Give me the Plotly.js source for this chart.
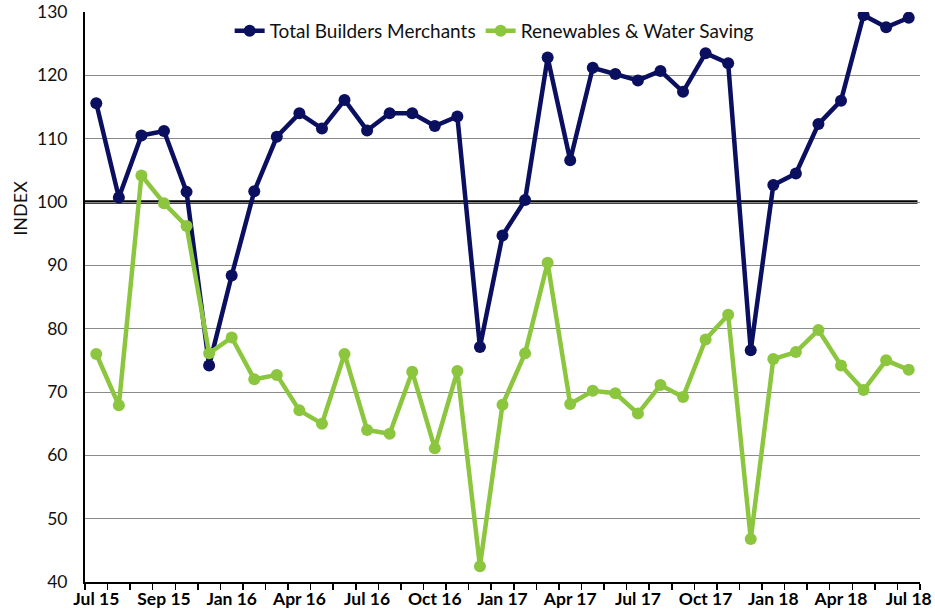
<!DOCTYPE html>
<html>
<head>
<meta charset="utf-8">
<script src="https://cdn.plot.ly/plotly-3.0.1.min.js"></script>
<style>html,body{margin:0;padding:0;background:#fff;}#chart{width:935px;height:616px;}</style>
</head>
<body>
<div id="chart"></div>
<script>
const months = ['Jul 15','Aug 15','Sep 15','Oct 15','Nov 15','Dec 15','Jan 16','Feb 16','Mar 16','Apr 16','May 16','Jun 16','Jul 16','Aug 16','Sep 16','Oct 16','Nov 16','Dec 16','Jan 17','Feb 17','Mar 17','Apr 17','May 17','Jun 17','Jul 17','Aug 17','Sep 17','Oct 17','Nov 17','Dec 17','Jan 18','Feb 18','Mar 18','Apr 18','May 18','Jun 18','Jul 18'];
const totalBuilders = [115.6,100.7,110.5,111.2,101.6,74.2,88.4,101.7,110.3,114.0,111.6,116.1,111.3,114.0,114.0,112.0,113.5,77.1,94.7,100.3,122.8,106.6,121.2,120.2,119.2,120.7,117.4,123.5,121.9,76.6,102.7,104.5,112.3,116.0,129.5,127.6,129.1];
const renewables = [76.0,67.9,104.2,99.8,96.2,76.1,78.6,72.0,72.7,67.1,65.0,76.0,64.0,63.4,73.2,61.1,73.3,42.5,68.0,76.1,90.4,68.1,70.2,69.8,66.6,71.1,69.2,78.3,82.2,46.8,75.2,76.3,79.8,74.2,70.3,75.0,73.5];
const tickLabels = ['Jul 15','Sep 15','Jan 16','Apr 16','Jul 16','Oct 16','Jan 17','Apr 17','Jul 17','Oct 17','Jan 18','Apr 18','Jul 18'];
const labelEvery = 3;
const baseline = 100;
const yTicks = [40,50,60,70,80,90,100,110,120,130];

const ticktext = months.map((m,i) => (i % labelEvery === 0) ? tickLabels[i/labelEvery] : '');

const navy = '#0b0f5f';
const green = '#8cc63f';

const traces = [
  {x: months, y: totalBuilders, name: 'Total Builders Merchants', type: 'scatter', mode: 'lines+markers',
   line: {color: navy, width: 4.5}, marker: {color: navy, size: 12}},
  {x: months, y: renewables, name: 'Renewables & Water Saving', type: 'scatter', mode: 'lines+markers',
   line: {color: green, width: 4.5}, marker: {color: green, size: 12}}
];

const layout = {
  width: 935, height: 616,
  margin: {l: 85, r: 15, t: 12, b: 34},
  paper_bgcolor: '#fff', plot_bgcolor: '#fff',
  font: {family: 'Lato, "Open Sans", sans-serif', color: '#1a1a1a', size: 17},
  showlegend: true,
  legend: {orientation: 'h', x: 0.49, xanchor: 'center', y: 1.0, yanchor: 'top',
           bgcolor: 'rgba(0,0,0,0)', font: {size: 19, color: '#111'}, itemwidth: 30, traceorder: 'normal'},
  xaxis: {type: 'category', tickvals: months, ticktext: ticktext, tickson: 'boundaries',
          ticks: 'outside', ticklen: 6, tickwidth: 1.5, tickcolor: '#000',
          showline: true, linecolor: '#000', linewidth: 2, showgrid: false, zeroline: false,
          tickangle: 0, tickfont: {size: 17.5, color: '#000', family: 'Lato, sans-serif', weight: 'bold'},
          range: [-0.5, months.length - 0.5], fixedrange: true},
  yaxis: {range: [40, 130], tickvals: yTicks, showgrid: true, gridcolor: '#8a8a8a', gridwidth: 1,
          showline: true, linecolor: '#000', linewidth: 2, zeroline: false, ticks: '',
          ticklabelstandoff: 12, tickfont: {size: 17.5, color: '#111'}, fixedrange: true},
  shapes: [{type: 'line', xref: 'paper', x0: 0, x1: 0.997, yref: 'y', y0: baseline, y1: baseline,
            line: {color: '#000', width: 3.5}, layer: 'between'}],
  annotations: [{text: 'INDEX', xref: 'paper', yref: 'y', x: -0.093, y: 99, textangle: -90,
                 showarrow: false, font: {size: 18, color: '#111'}}]
};

Plotly.newPlot('chart', traces, layout, {displayModeBar: false, staticPlot: true});
</script>
</body>
</html>
